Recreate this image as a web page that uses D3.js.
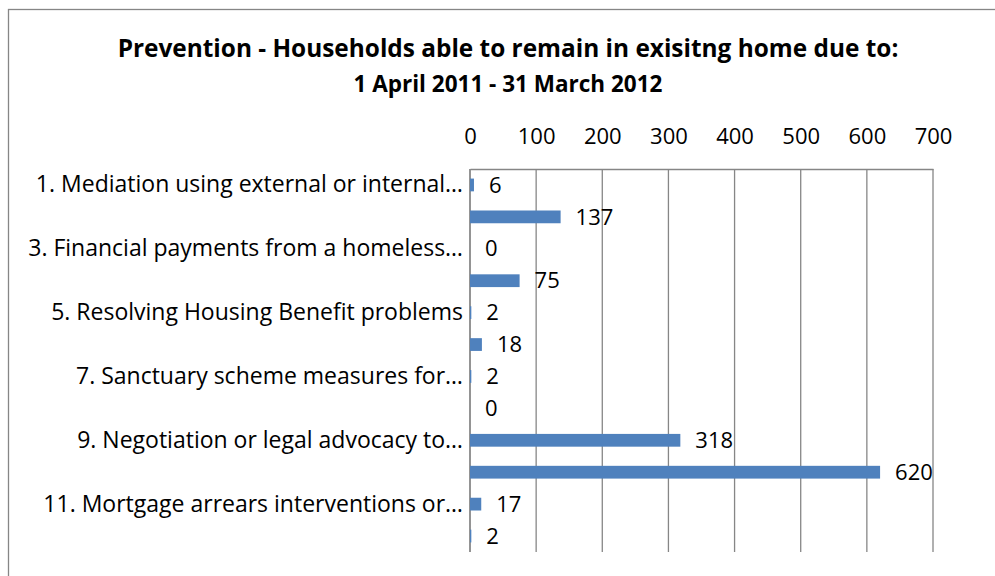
<!DOCTYPE html>
<html>
<head>
<meta charset="utf-8">
<script src="https://cdn.jsdelivr.net/npm/d3@7"></script>
<style>
  html, body { margin: 0; padding: 0; background: #fff; }
  svg { display: block; font-family: "Open Sans", "Noto Sans", sans-serif; }
</style>
</head>
<body>
<svg id="chart" width="995" height="576"></svg>
<script>
// Prevention outcomes, 1 April 2011 - 31 March 2012
const categories = [
  "1. Mediation using external or internal…",
  "2. Conciliation including home visits",
  "3. Financial payments from a homeless…",
  "4. Debt advice",
  "5. Resolving Housing Benefit problems",
  "6. Resolving rent or service charge arrears",
  "7. Sanctuary scheme measures for…",
  "8. Crisis intervention",
  "9. Negotiation or legal advocacy to…",
  "10. Other assistance in the private rented sector",
  "11. Mortgage arrears interventions or…",
  "12. Other"
];
const households = [6, 137, 0, 75, 2, 18, 2, 0, 318, 620, 17, 2];
const xTicks = [0, 100, 200, 300, 400, 500, 600, 700];
const titleText = "Prevention - Households able to remain in exisitng home due to:";
const subtitleText = "1 April 2011 - 31 March 2012";

const svg = d3.select("#chart");
const W = 995, H = 576;
const plot = { left: 470, right: 933, top: 169, bottom: 552 };
const gridColor = "#868686";
const labelSize = 22;

// outer chart frame
svg.append("rect")
  .attr("x", 8.5).attr("y", 9.5)
  .attr("width", W).attr("height", H)
  .attr("fill", "#fff").attr("stroke", gridColor).attr("stroke-width", 1.3);

// titles
svg.append("text")
  .attr("x", 508).attr("y", 57)
  .attr("text-anchor", "middle")
  .attr("font-size", 24.4).attr("font-weight", "bold").attr("fill", "#000")
  .text(titleText);
svg.append("text")
  .attr("x", 508).attr("y", 92)
  .attr("text-anchor", "middle")
  .attr("font-size", 22.5).attr("font-weight", "bold").attr("fill", "#000")
  .text(subtitleText);

const x = d3.scaleLinear().domain([0, 700]).range([plot.left, plot.right]);
const y = d3.scaleBand()
  .domain(categories)
  .range([plot.top, plot.bottom])
  .paddingInner(0.6).paddingOuter(0.3);

// vertical gridlines
svg.append("g")
  .selectAll("line")
  .data(xTicks)
  .join("line")
  .attr("x1", d => x(d)).attr("x2", d => x(d))
  .attr("y1", plot.top).attr("y2", plot.bottom)
  .attr("stroke", gridColor).attr("stroke-width", 1.3);

// value axis along the top
const xAxis = d3.axisTop(x).tickValues(xTicks).tickSize(0).tickPadding(0);
const gx = svg.append("g")
  .attr("transform", `translate(0,${plot.top})`)
  .call(xAxis);
gx.select(".domain").attr("stroke", gridColor).attr("stroke-width", 1.3);
gx.selectAll("text")
  .attr("y", -25)
  .attr("dy", null)
  .attr("font-size", labelSize)
  .attr("font-family", "\"Open Sans\", sans-serif")
  .attr("fill", "#000");

// category axis on the left; only every other label fits
const yAxis = d3.axisLeft(y).tickSize(0).tickPadding(7)
  .tickFormat((d, i) => (i % 2 === 0 ? d : ""));
const gy = svg.append("g")
  .attr("transform", `translate(${plot.left},0)`)
  .call(yAxis);
gy.select(".domain")
  .attr("d", `M0,${plot.top}V${plot.bottom}`)
  .attr("stroke", gridColor).attr("stroke-width", 1.3);
gy.selectAll("text")
  .attr("font-size", 23)
  .attr("font-family", "\"Open Sans\", sans-serif")
  .attr("fill", "#000");

// bars
svg.append("g")
  .selectAll("rect")
  .data(households)
  .join("rect")
  .attr("x", x(0))
  .attr("y", (d, i) => y(categories[i]))
  .attr("width", d => x(d) - x(0))
  .attr("height", y.bandwidth())
  .attr("fill", "#4F81BD");

// value labels
svg.append("g")
  .selectAll("text")
  .data(households)
  .join("text")
  .attr("x", d => x(d) + 15)
  .attr("y", (d, i) => y(categories[i]) + y.bandwidth() / 2)
  .attr("dy", "0.35em")
  .attr("font-size", labelSize)
  .attr("fill", "#000")
  .text(d => d);
</script>
</body>
</html>
